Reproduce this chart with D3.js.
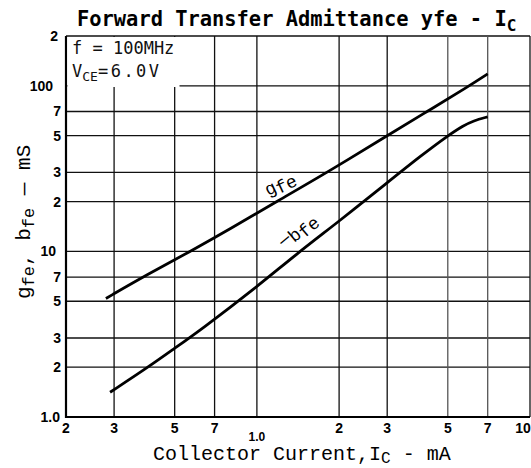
<!DOCTYPE html>
<html>
<head>
<meta charset="utf-8">
<script src="https://cdn.jsdelivr.net/npm/d3@7"></script>
<style>
  body { margin: 0; background: #fff; }
  svg { display: block; }
</style>
</head>
<body>
<div id="chart"></div>
<script>
// collector current (mA) and admittance (mS)
const icG = [0.28, 0.4, 0.57, 0.8, 1.18, 1.81, 3, 4.2, 6, 7];
const gfe = [5.2, 7.3, 10, 13.7, 20, 30, 50, 70, 100, 118];
const icB = [0.29, 0.4, 0.5, 0.62, 1.0, 1.4, 2, 3, 4, 5, 5.7, 6.2, 7];
const bfe = [1.41, 2.0, 2.6, 3.34, 6.1, 9.7, 15.2, 26, 38, 50, 57.5, 61.5, 65];

const xTicks = [0.2, 0.3, 0.5, 0.7, 1, 2, 3, 5, 7, 10];
const xTickLabels = ["2", "3", "5", "7", "1.0", "2", "3", "5", "7", "10"];
const yTicks = [1, 2, 3, 5, 7, 10, 20, 30, 50, 70, 100, 200];
const yTickLabels = ["1.0", "2", "3", "5", "7", "10", "2", "3", "5", "7", "100", "2"];

const width = 531, height = 468;
const margin = { top: 36, right: 1, bottom: 51, left: 66 };

const svg = d3.select("#chart")
  .append("svg")
  .attr("width", width)
  .attr("height", height);

const x = d3.scaleLog()
  .domain([0.2, 10])
  .range([margin.left, width - margin.right]);

const y = d3.scaleLog()
  .domain([1, 200])
  .range([height - margin.bottom, margin.top]);

// grid
svg.append("g")
  .selectAll("line")
  .data(yTicks)
  .join("line")
  .attr("x1", x(0.2))
  .attr("x2", x(10))
  .attr("y1", d => y(d))
  .attr("y2", d => y(d))
  .attr("stroke", "#111")
  .attr("stroke-width", 1.3);

svg.append("g")
  .selectAll("line")
  .data(xTicks)
  .join("line")
  .attr("x1", d => x(d))
  .attr("x2", d => x(d))
  .attr("y1", y(1))
  .attr("y2", y(200))
  .attr("stroke", d => (d === 5 || d === 7) ? "#555" : "#111")
  .attr("stroke-width", 1.3);

// heavier left and bottom frame
svg.append("line")
  .attr("x1", x(0.2)).attr("x2", x(0.2))
  .attr("y1", y(1) + 1).attr("y2", y(200))
  .attr("stroke", "#000").attr("stroke-width", 2.2);
svg.append("line")
  .attr("x1", x(0.2)).attr("x2", x(10))
  .attr("y1", y(1)).attr("y2", y(1))
  .attr("stroke", "#000").attr("stroke-width", 2.2);

// white box behind the conditions text
svg.append("rect")
  .attr("x", x(0.2) + 1.5)
  .attr("y", y(200) + 1)
  .attr("width", 112)
  .attr("height", 50)
  .attr("fill", "#fff");

const cond = svg.append("g")
  .style("font-family", "'DejaVu Sans Mono', monospace")
  .style("font-size", "17px")
  .attr("fill", "#111");
cond.append("text").attr("x", 72).attr("y", 54).text("f = 100MHz");
const vce = cond.append("text").attr("x", 72).attr("y", 77);
vce.append("tspan").text("V");
vce.append("tspan").attr("dy", 4).style("font-size", "13px").text("CE");
vce.append("tspan").attr("dy", -4).attr("letter-spacing", 2.5).text("=6.0V");

// curves
const line = d3.line()
  .x(d => x(d[0]))
  .y(d => y(d[1]))
  .curve(d3.curveBasis);

svg.append("path")
  .datum(icG.map((v, i) => [v, gfe[i]]))
  .attr("d", line)
  .attr("fill", "none")
  .attr("stroke", "#000")
  .attr("stroke-width", 2.8);

svg.append("path")
  .datum(icB.map((v, i) => [v, bfe[i]]))
  .attr("d", line)
  .attr("fill", "none")
  .attr("stroke", "#000")
  .attr("stroke-width", 2.8);

// curve labels
const lab = svg.append("g")
  .style("font-family", "'Liberation Mono', monospace")
  .style("font-size", "18px")
  .attr("fill", "#000");
const gl = lab.append("text")
  .attr("transform", "translate(268,196) rotate(-25)");
gl.append("tspan").text("g");
gl.append("tspan").attr("dy", 3).text("fe");
const bl = lab.append("text")
  .attr("transform", "translate(286,250) rotate(-40)");
bl.append("tspan").attr("dy", -4).text("\u2014");
bl.append("tspan").attr("dy", 4).text("b");
bl.append("tspan").attr("dy", 3).text("fe");

// tick labels
const tickFont = "'Liberation Sans', Arial, sans-serif";
const yLabelEnd = s => s === "100" ? 53 : s === "10" ? 56 : s === "1.0" ? 60 : 61;
svg.append("g")
  .selectAll("text")
  .data(yTicks)
  .join("text")
  .attr("x", (d, i) => i === yTicks.length - 1 ? 58 : yLabelEnd(yTickLabels[i]))
  .attr("y", d => y(d) + 5)
  .attr("text-anchor", "end")
  .style("font-family", tickFont)
  .style("font-weight", "bold")
  .style("font-size", "14px")
  .text((d, i) => yTickLabels[i]);

svg.append("g")
  .selectAll("text")
  .data(xTicks)
  .join("text")
  .attr("x", d => d === 10 ? x(d) - 7 : x(d))
  .attr("y", d => d === 1 ? 441 : 433)
  .attr("text-anchor", "middle")
  .style("font-family", tickFont)
  .style("font-weight", "bold")
  .style("font-size", d => d === 1 ? "12px" : "14px")
  .text((d, i) => xTickLabels[i]);

// titles
const title = svg.append("text")
  .attr("x", 77)
  .attr("y", 26)
  .style("font-family", "'DejaVu Sans Mono', monospace")
  .style("font-weight", "bold")
  .style("font-size", "20.4px")
  .attr("fill", "#000");
title.append("tspan").text("Forward Transfer Admittance yfe - I");
title.append("tspan").attr("dy", 5).style("font-size", "16px").text("C");

const xt = svg.append("text")
  .attr("x", 153)
  .attr("y", 460)
  .style("font-family", "'Liberation Mono', monospace")
  .style("font-size", "20px")
  .attr("fill", "#000");
xt.append("tspan").text("Collector Current,I");
xt.append("tspan").attr("dy", 3).style("font-size", "16px").text("C");
xt.append("tspan").attr("dy", -3).text(" - mA");

const yt = svg.append("text")
  .attr("transform", "translate(30,299) rotate(-90)")
  .style("font-family", "'Liberation Mono', monospace")
  .style("font-size", "21px")
  .attr("fill", "#000");
yt.append("tspan").text("g");
yt.append("tspan").attr("dy", 4).style("font-size", "17px").text("fe");
yt.append("tspan").attr("dy", -4).text(", b");
yt.append("tspan").attr("dy", 4).style("font-size", "17px").text("fe");
yt.append("tspan").attr("dy", -4).text(" \u2014 mS");
</script>
</body>
</html>
